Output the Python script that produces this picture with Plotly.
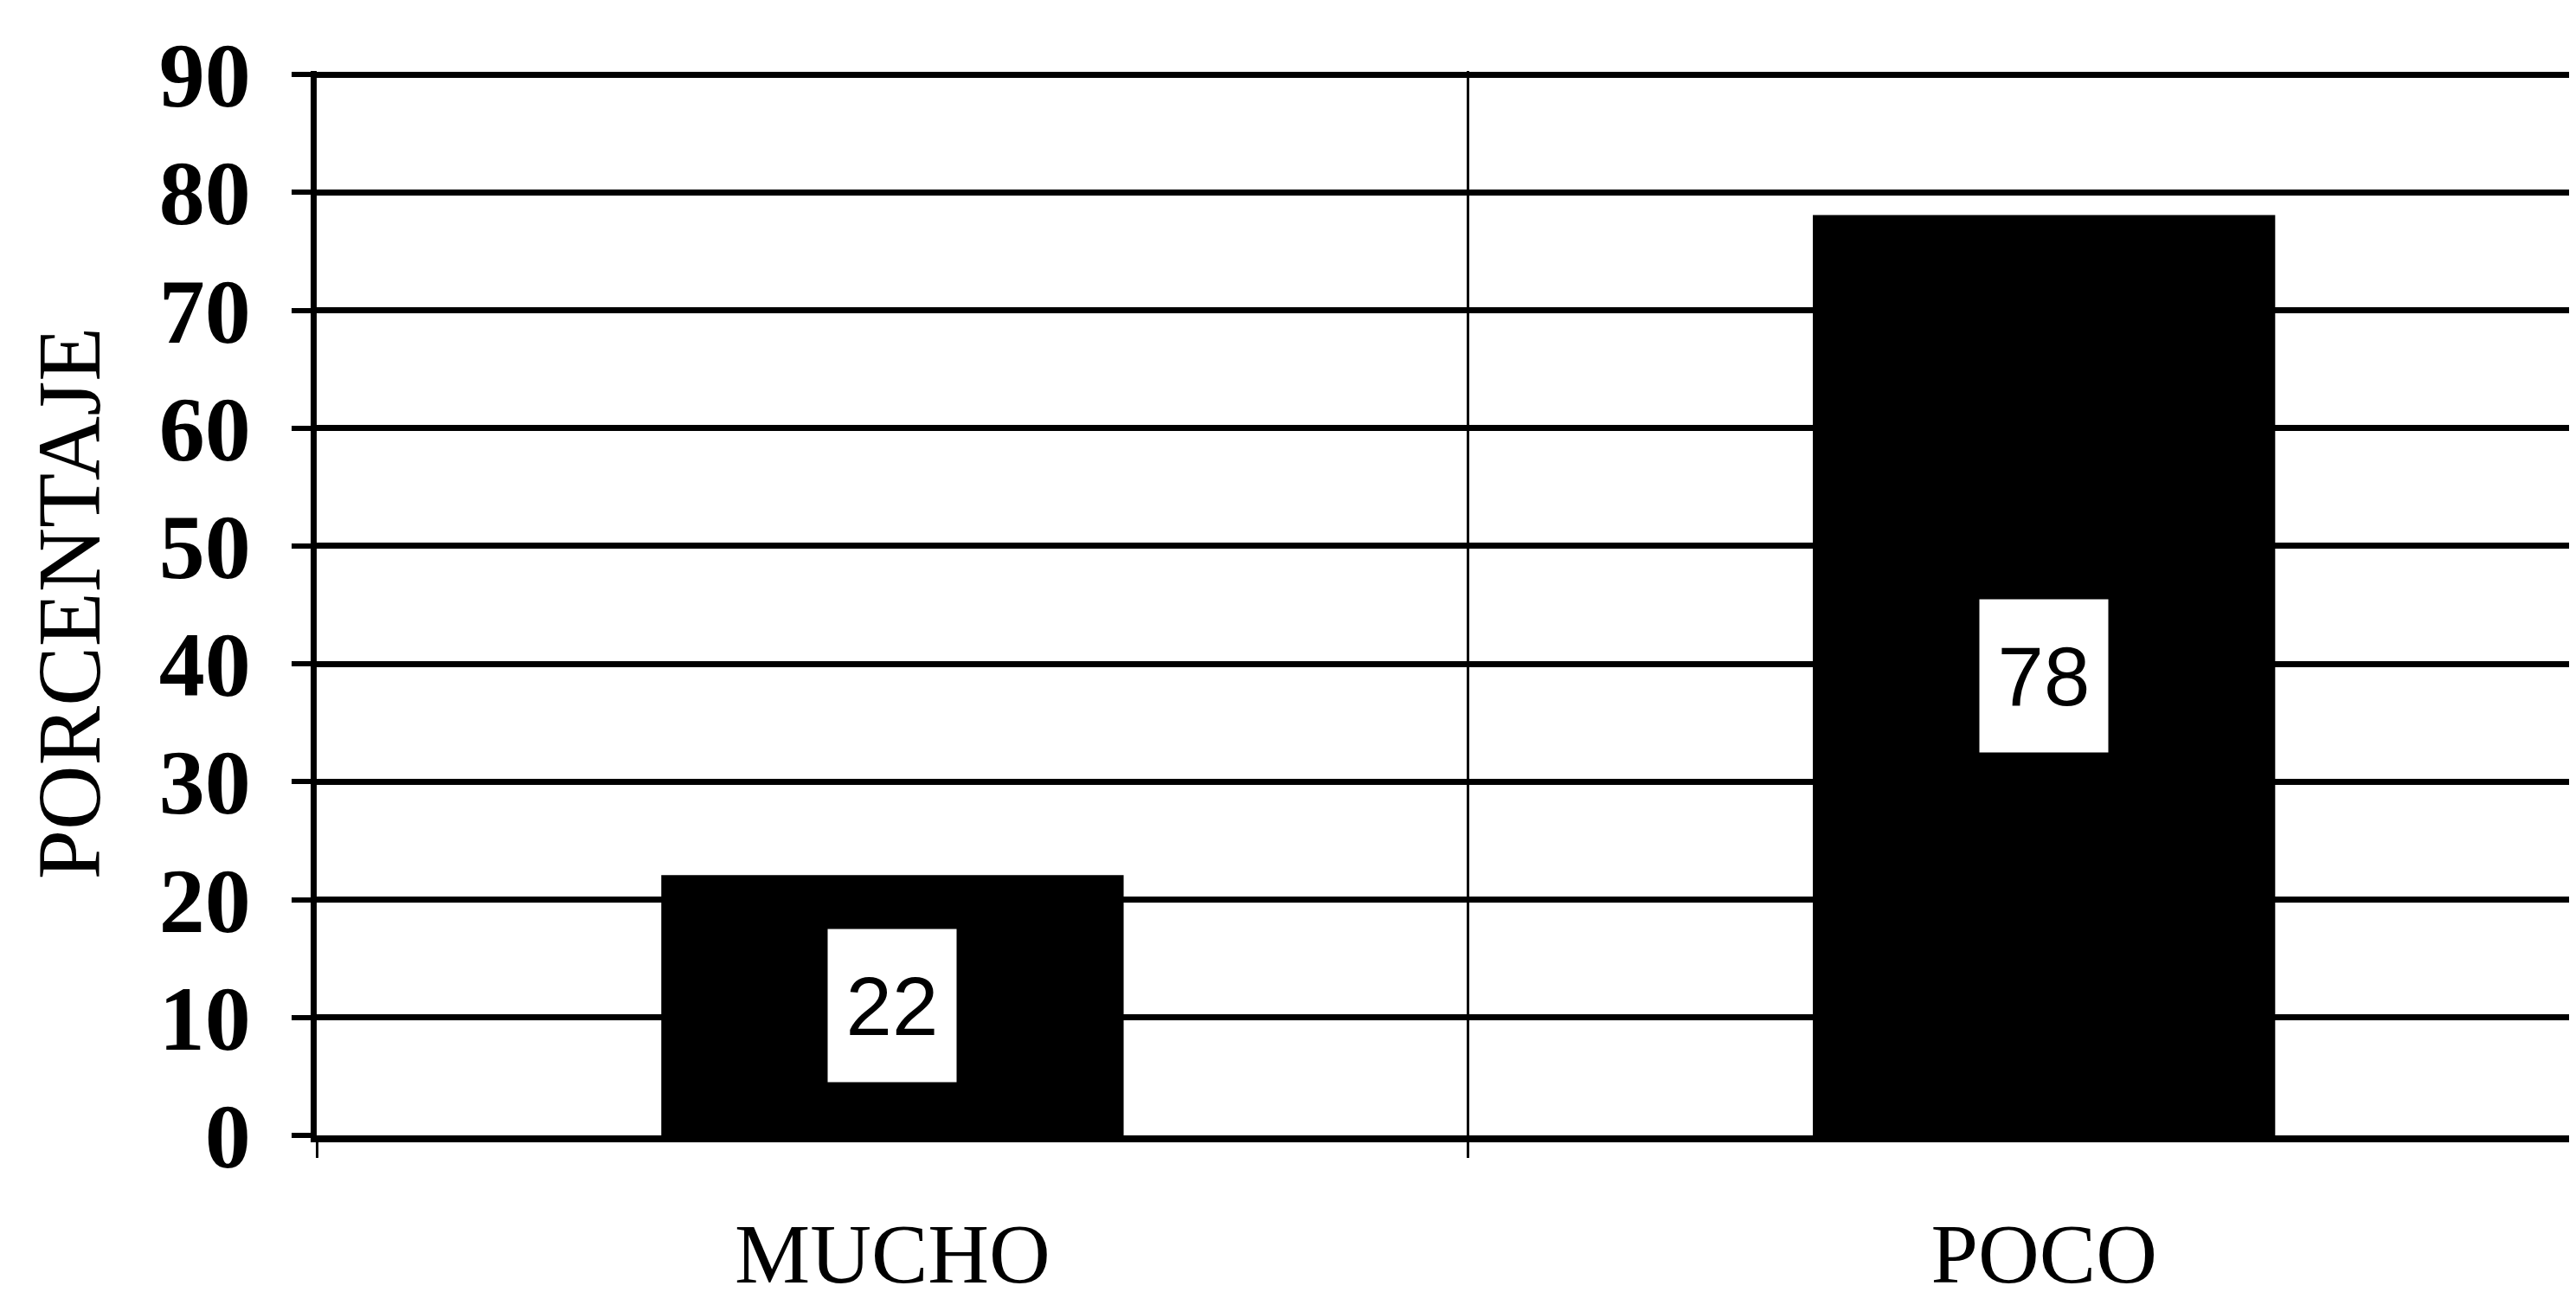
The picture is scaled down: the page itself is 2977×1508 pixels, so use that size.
import plotly.graph_objects as go

categories = ["MUCHO", "POCO"]
values = [22, 78]
y_ticks = [0, 10, 20, 30, 40, 50, 60, 70, 80, 90]
y_title = "PORCENTAJE"

fig = go.Figure()
fig.add_trace(go.Bar(
    x=categories, y=values, width=0.4,
    marker=dict(color="black", line=dict(color="black", width=2)),
    showlegend=False, hoverinfo="skip",
))

for c, v in zip(categories, values):
    fig.add_annotation(
        x=c, y=v / 2, xref="x", yref="y", text=str(v), showarrow=False,
        font=dict(family="Liberation Sans", size=96, color="black"),
        bgcolor="white", width=112, height=140, borderpad=18,
    )

fig.update_layout(
    width=2977, height=1508,
    margin=dict(l=358, r=0, t=74, b=204),
    paper_bgcolor="white", plot_bgcolor="white",
    bargap=0.6,
)
fig.update_xaxes(
    range=[-0.5, 1.468], tickson="boundaries", showgrid=True,
    gridcolor="black", gridwidth=3,
    ticks="outside", ticklen=18, tickwidth=3, tickcolor="black",
    showline=True, linecolor="black", linewidth=8,
    tickfont=dict(family="Liberation Serif", size=98, color="black"),
    ticklabelstandoff=44, zeroline=False, automargin=False,
)
fig.update_yaxes(
    range=[0, 90.3], tickvals=y_ticks, ticktext=[str(t) for t in y_ticks],
    showgrid=True, gridcolor="black", gridwidth=7,
    ticks="outside", ticklen=22, tickwidth=6, tickcolor="black",
    showline=True, linecolor="black", linewidth=7,
    tickfont=dict(family="Liberation Serif", size=106, color="black", weight="bold"),
    ticklabelstandoff=26,
    title=dict(text=y_title, font=dict(family="Liberation Serif", size=103, color="black"), standoff=36),
    zeroline=False, automargin=False,
)

fig.write_html("out.html")
